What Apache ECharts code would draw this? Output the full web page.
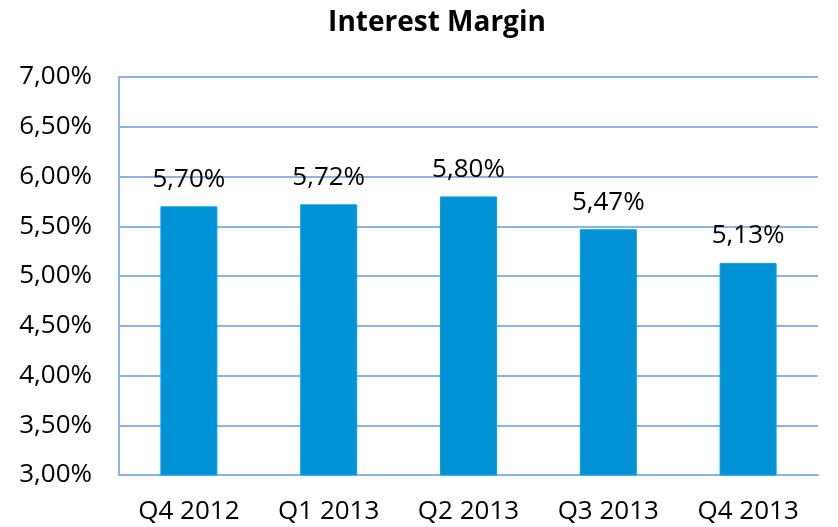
<!DOCTYPE html>
<html>
<head>
<meta charset="utf-8">
<script src="https://cdn.jsdelivr.net/npm/echarts@6/dist/echarts.min.js"></script>
<style>
  html, body { margin: 0; padding: 0; background: #fff; }
  #chart { width: 838px; height: 527px; }
</style>
</head>
<body>
<div id="chart"></div>
<script>
const categories = ["Q4 2012", "Q1 2013", "Q2 2013", "Q3 2013", "Q4 2013"];
const margin = [5.70, 5.72, 5.80, 5.47, 5.13];

const fmt = (v) => v.toFixed(2).replace(".", ",") + "%";

const chart = echarts.init(document.getElementById("chart"));
chart.setOption({
  backgroundColor: "#fff",
  textStyle: { fontFamily: "Open Sans" },
  title: {
    text: "Interest Margin",
    left: 432,
    top: 4,
    textAlign: "center",
    textStyle: { fontFamily: "Open Sans", fontWeight: "bold", fontSize: 28, color: "#000" },
  },
  grid: { left: 119, right: 20, top: 77, bottom: 52 },
  xAxis: {
    type: "category",
    data: categories,
    axisLine: { lineStyle: { color: "#8db3e2", width: 2 } },
    axisTick: { show: false },
    axisLabel: { color: "#000", fontSize: 26, margin: 24 },
  },
  yAxis: {
    type: "value",
    min: 3,
    max: 7,
    interval: 0.5,
    axisLine: { show: true, lineStyle: { color: "#8db3e2", width: 2 } },
    axisTick: { show: false },
    splitLine: { lineStyle: { color: "#8db3e2", width: 2 } },
    axisLabel: { color: "#000", fontSize: 26, margin: 27, formatter: fmt },
  },
  series: [
    {
      type: "bar",
      data: margin,
      barWidth: 57,
      itemStyle: { color: "#0092d5", borderColor: "#00a3ea", borderWidth: 1 },
      label: {
        show: true,
        position: "top",
        distance: 14,
        color: "#000",
        fontSize: 26,
        formatter: (p) => fmt(p.value),
      },
    },
  ],
});
</script>
</body>
</html>
